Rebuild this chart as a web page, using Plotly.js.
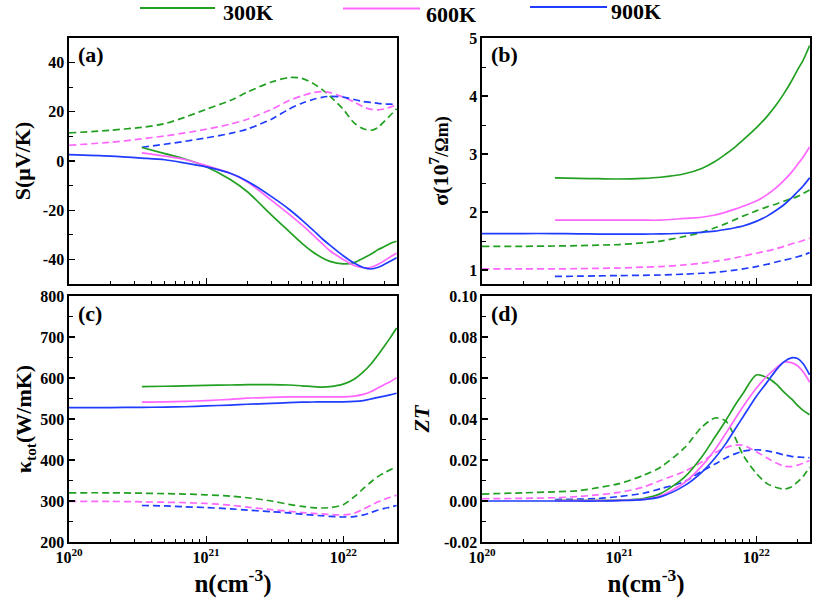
<!DOCTYPE html>
<html>
<head>
<meta charset="utf-8">
<script src="https://cdn.plot.ly/plotly-3.0.1.min.js"></script>
<style>html,body{margin:0;padding:0;background:#fff;}#chart{width:813px;height:598px;}</style>
</head>
<body>
<div id="chart"></div>
<script>
// carrier concentration grid (cm^-3)
const n = [1e20, 2e20, 3.4e20, 5e20, 7e20, 1e21, 1.5e21, 2e21, 3e21, 4e21, 5e21, 6e21, 7e21, 8e21, 1e22, 1.2e22, 1.4e22, 1.6e22, 1.8e22, 2e22, 2.2e22, 2.45e22];

const temps = ['300K', '600K', '900K'];

// (a) Seebeck coefficient S (uV/K)
const S_solid_300 = [null, null, 5.5, 3.0, 0.8, -2.3, -7.5, -12.5, -22, -28.5, -33.5, -37, -39.3, -40.8, -41.8, -41.3, -39.5, -37.8, -36.0, -34.8, -33.5, -32.6];
const S_solid_600 = [null, null, 3.3, 2.0, 0.6, -1.9, -5.0, -8.5, -16, -21.5, -26, -30, -33.5, -36.5, -40.0, -42.5, -43.4, -43.2, -42, -40.5, -39, -37.5];
const S_solid_900 = [2.6, 2.0, 1.2, 0.5, -0.8, -2.4, -5.0, -8.2, -14.5, -19.5, -24, -28, -31.5, -34.2, -38.5, -41.5, -43.3, -43.9, -43.2, -42, -40.8, -39.3];
const S_dash_300 = [11.4, 12.5, 13.7, 15.2, 17.8, 21, 24.6, 28, 32.1, 33.9, 33.6, 31.6, 29.1, 26.4, 21, 15.5, 13.1, 12.5, 13.7, 16.2, 18.5, 21.2];
const S_dash_600 = [6.4, 7.6, 9.0, 10.2, 11.4, 12.9, 15.0, 17.0, 21.0, 24.5, 26.5, 27.8, 28.2, 27.8, 26.0, 24.0, 22.0, 21.0, 20.8, 21.2, 21.9, 22.8];
const S_dash_900 = [null, null, 5.6, 6.8, 8.0, 9.4, 11.2, 13.0, 17.0, 21.0, 23.5, 25.0, 25.9, 26.3, 26.0, 25.0, 24.2, 23.8, 23.4, 23.2, 23.1, 23.0];

// (b) electrical conductivity sigma (10^7 / Ohm m)
const sig_solid_300 = [null, null, 2.59, 2.58, 2.575, 2.57, 2.58, 2.60, 2.66, 2.75, 2.87, 3.00, 3.12, 3.24, 3.45, 3.65, 3.85, 4.05, 4.25, 4.45, 4.62, 4.87];
const sig_solid_600 = [null, null, 1.86, 1.86, 1.86, 1.86, 1.86, 1.86, 1.89, 1.91, 1.95, 2.00, 2.05, 2.10, 2.19, 2.30, 2.42, 2.55, 2.68, 2.82, 2.95, 3.12];
const sig_solid_900 = [1.63, 1.63, 1.63, 1.625, 1.62, 1.62, 1.62, 1.625, 1.635, 1.65, 1.67, 1.70, 1.73, 1.76, 1.84, 1.93, 2.03, 2.13, 2.24, 2.35, 2.45, 2.59];
const sig_dash_300 = [1.41, 1.41, 1.415, 1.42, 1.43, 1.44, 1.47, 1.50, 1.58, 1.65, 1.73, 1.80, 1.87, 1.93, 2.02, 2.09, 2.14, 2.19, 2.23, 2.27, 2.32, 2.38];
const sig_dash_600 = [1.02, 1.02, 1.02, 1.025, 1.03, 1.035, 1.05, 1.06, 1.09, 1.12, 1.15, 1.18, 1.21, 1.24, 1.29, 1.33, 1.37, 1.41, 1.45, 1.48, 1.51, 1.55];
const sig_dash_900 = [null, null, 0.89, 0.895, 0.90, 0.905, 0.91, 0.915, 0.93, 0.945, 0.96, 0.98, 1.00, 1.02, 1.06, 1.10, 1.14, 1.17, 1.20, 1.23, 1.26, 1.30];

// (c) total thermal conductivity (W/mK)
const k_solid_300 = [null, null, 579, 580, 581, 582, 583, 584, 584, 583, 581, 579, 578, 579, 585, 597, 615, 635, 657, 678, 698, 722];
const k_solid_600 = [null, null, 541, 542, 543, 545, 548, 551, 553, 554, 554, 554, 554, 554, 554, 556, 560, 567, 576, 584, 591, 601];
const k_solid_900 = [528, 528, 528.5, 529, 530, 532, 534, 536, 538, 540, 541, 541.5, 542, 542, 542, 543, 545, 549, 553, 556, 559, 563];
const k_dash_300 = [320, 320, 319, 318, 317, 315, 312, 308, 300, 292, 287, 284, 283, 284, 291, 310, 330, 347, 360, 369, 376, 382];
const k_dash_600 = [299, 299, 298, 297, 296, 294, 290, 285, 279, 275, 272, 270, 268.5, 267, 266, 270, 280, 290, 298, 304, 309, 314];
const k_dash_900 = [null, null, 289, 288, 286, 284, 281, 278, 274, 271, 268, 265.5, 264, 262.5, 261, 262, 266, 272, 278, 282, 285, 289];

// (d) figure of merit ZT
const zt_solid_300 = [null, null, 0.0003, 0.0003, 0.0003, 0.0004, 0.0012, 0.0036, 0.0117, 0.0215, 0.0312, 0.0393, 0.0467, 0.0524, 0.0615, 0.0602, 0.057, 0.053, 0.0499, 0.0467, 0.0442, 0.0421];
const zt_solid_600 = [null, null, 0.0002, 0.0002, 0.0002, 0.0003, 0.0008, 0.0025, 0.009, 0.017, 0.025, 0.033, 0.040, 0.046, 0.055, 0.061, 0.065, 0.0678, 0.0675, 0.066, 0.063, 0.058];
const zt_solid_900 = [0.0, 0.0, 0.0, 0.0, 0.0, 0.0002, 0.0007, 0.002, 0.0075, 0.014, 0.021, 0.028, 0.035, 0.041, 0.051, 0.058, 0.064, 0.068, 0.0698, 0.0695, 0.067, 0.0615];
const zt_dash_300 = [0.0034, 0.0040, 0.0045, 0.0050, 0.0065, 0.0085, 0.0125, 0.0165, 0.026, 0.036, 0.0405, 0.039, 0.031, 0.0225, 0.0135, 0.0085, 0.0066, 0.0058, 0.0068, 0.0093, 0.012, 0.0166];
const zt_dash_600 = [0.0011, 0.0013, 0.0016, 0.0022, 0.003, 0.0042, 0.0068, 0.010, 0.0145, 0.019, 0.0235, 0.026, 0.0272, 0.0272, 0.024, 0.021, 0.0185, 0.017, 0.0168, 0.0175, 0.0185, 0.0198];
const zt_dash_900 = [null, null, 0.0007, 0.0009, 0.0012, 0.0022, 0.0038, 0.006, 0.0095, 0.0145, 0.018, 0.021, 0.023, 0.0243, 0.025, 0.0245, 0.0235, 0.0225, 0.0218, 0.0215, 0.0213, 0.0211];

// tick labels
const xTickVals = [1e20, 1e21, 1e22];
const xTickText = ['10<sup>20</sup>', '10<sup>21</sup>', '10<sup>22</sup>'];
const aTickVals = [-40, -20, 0, 20, 40];
const aTickText = ['-40', '-20', '0', '20', '40'];
const bTickVals = [1, 2, 3, 4, 5];
const bTickText = ['1', '2', '3', '4', '5'];
const cTickVals = [200, 300, 400, 500, 600, 700, 800];
const cTickText = ['200', '300', '400', '500', '600', '700', '800'];
const dTickVals = [-0.02, 0, 0.02, 0.04, 0.06, 0.08, 0.10];
const dTickText = ['-0.02', '0.00', '0.02', '0.04', '0.06', '0.08', '0.10'];

const colors = ['#22a022', '#ff66ff', '#1f3cff'];
const FONT = 'Liberation Serif';

const panels = [
  {xa: 'x', ya: 'y', solid: [S_solid_300, S_solid_600, S_solid_900], dash: [S_dash_300, S_dash_600, S_dash_900]},
  {xa: 'x2', ya: 'y2', solid: [sig_solid_300, sig_solid_600, sig_solid_900], dash: [sig_dash_300, sig_dash_600, sig_dash_900]},
  {xa: 'x3', ya: 'y3', solid: [k_solid_300, k_solid_600, k_solid_900], dash: [k_dash_300, k_dash_600, k_dash_900]},
  {xa: 'x4', ya: 'y4', solid: [zt_solid_300, zt_solid_600, zt_solid_900], dash: [zt_dash_300, zt_dash_600, zt_dash_900]}
];

const traces = [];
panels.forEach((p, pi) => {
  p.dash.forEach((ys, i) => {
    traces.push({x: n, y: ys, xaxis: p.xa, yaxis: p.ya, type: 'scatter', mode: 'lines',
      name: temps[i], line: {color: colors[i], width: 1.7, dash: '7px,4px', shape: 'spline', smoothing: 0.8},
      showlegend: false, connectgaps: false, hoverinfo: 'skip'});
  });
  p.solid.forEach((ys, i) => {
    traces.push({x: n, y: ys, xaxis: p.xa, yaxis: p.ya, type: 'scatter', mode: 'lines',
      name: temps[i], line: {color: colors[i], width: 1.7, shape: 'spline', smoothing: 0.8},
      showlegend: false, connectgaps: false, hoverinfo: 'skip'});
  });
});

const tickFont = {family: FONT, size: 16, color: '#000', weight: 'bold'};
const titleFont = {family: FONT, size: 22, color: '#000', weight: 'bold'};

function xax(domain, anchor, showLabels) {
  const a = {
    domain: domain, anchor: anchor, type: 'log', range: [20, 22.392],
    showline: true, linecolor: '#000', linewidth: 1.6, mirror: true,
    ticks: 'inside', ticklen: 6, tickwidth: 1.2, tickcolor: '#000',
    tickvals: xTickVals, ticktext: xTickText, showticklabels: showLabels,
    minor: {ticks: 'inside', ticklen: 3.5, tickwidth: 1, tickcolor: '#000', dtick: 'D1', showgrid: false},
    showgrid: false, zeroline: false, tickfont: tickFont
  };
  if (showLabels) a.title = {text: 'n(cm<sup>-3</sup>)', font: {family: FONT, size: 25, color: '#000', weight: 'bold'}, standoff: 0};
  return a;
}
function yax(domain, anchor, range, vals, text, minorDtick, title, standoff) {
  return {
    domain: domain, anchor: anchor, range: range,
    showline: true, linecolor: '#000', linewidth: 1.6, mirror: true,
    ticks: 'inside', ticklen: 6, tickwidth: 1.2, tickcolor: '#000',
    tickvals: vals, ticktext: text,
    minor: {ticks: 'inside', ticklen: 3.5, tickwidth: 1, tickcolor: '#000', dtick: minorDtick, showgrid: false},
    showgrid: false, zeroline: false, tickfont: tickFont,
    title: {text: title, font: titleFont, standoff: standoff}
  };
}

const W = 813, H = 598, M = {l: 69, r: 3, t: 38, b: 56, autoexpand: false};
const px2x = v => (v - M.l) / (W - M.l - M.r);
const px2y = v => (H - M.b - v) / (H - M.t - M.b);

const L = [0, 0.4426], R = [0.5574, 1], T = [0.5119, 1], B = [0, 0.488];
const labelFont = {family: FONT, size: 22, color: '#000', weight: 'bold'};

// legend (line sample + label) positions in pixels
const legLine = [[140, 215, 8], [343, 420, 8.5], [530, 607, 7]];
const legText = [[222, 12.5], [425, 14.5], [610, 12]];

const shapes = [];
const annotations = [];
temps.forEach((t, i) => {
  shapes.push({type: 'line', xref: 'paper', yref: 'paper',
    x0: px2x(legLine[i][0]), x1: px2x(legLine[i][1]), y0: px2y(legLine[i][2]), y1: px2y(legLine[i][2]),
    line: {color: colors[i], width: 2}});
  annotations.push({text: t, xref: 'paper', yref: 'paper', x: px2x(legText[i][0]), y: px2y(legText[i][1]),
    xanchor: 'left', yanchor: 'middle', showarrow: false, borderpad: 0,
    font: {family: FONT, size: 22, color: '#000', weight: 'bold'}});
});
['(a)', '(b)', '(c)', '(d)'].forEach((lab, i) => {
  const s = i === 0 ? '' : String(i + 1);
  annotations.push({text: lab, xref: 'x' + s + ' domain', yref: 'y' + s + ' domain', x: 0.02, y: 0.99,
    xanchor: 'left', yanchor: 'top', showarrow: false, font: labelFont});
});

const layout = {
  width: W, height: H,
  margin: M,
  paper_bgcolor: '#fff', plot_bgcolor: '#fff',
  font: {family: FONT, color: '#000'},
  showlegend: false,
  xaxis: xax(L, 'y', false),
  xaxis2: xax(R, 'y2', false),
  xaxis3: xax(L, 'y3', true),
  xaxis4: xax(R, 'y4', true),
  yaxis: yax(T, 'x', [-50, 50], aTickVals, aTickText, 10, 'S(μV/K)', 6),
  yaxis2: yax(T, 'x2', [0.76, 5], bTickVals, bTickText, 0.5, 'σ(10<sup>7</sup><span style="font-size:18px">/Ωm)</span>', 14),
  yaxis3: yax(B, 'x3', [200, 800], cTickVals, cTickText, 50, 'κ<sub>tot</sub>(W/mK)', 2),
  yaxis4: yax(B, 'x4', [-0.02, 0.10], dTickVals, dTickText, 0.01, '<i>ZT</i>', 8),
  shapes: shapes,
  annotations: annotations
};

Plotly.newPlot('chart', traces, layout, {displayModeBar: false, staticPlot: true});
</script>
</body>
</html>
